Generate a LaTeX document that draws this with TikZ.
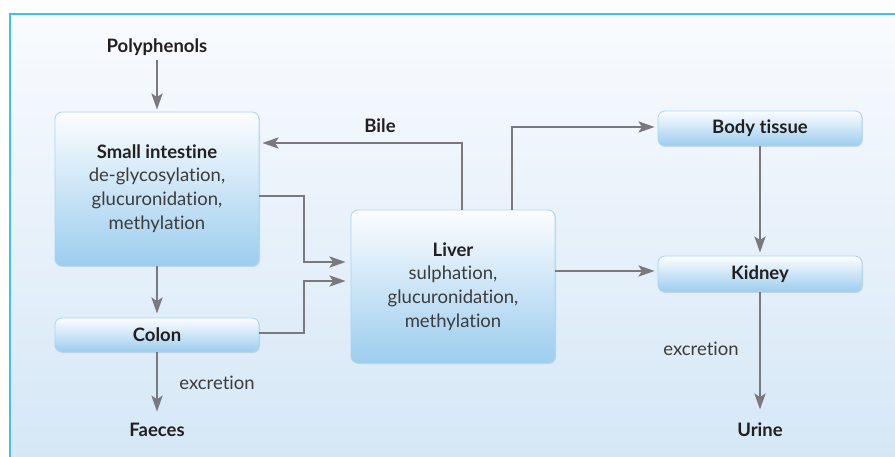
\documentclass[tikz,border=0pt]{standalone}
\usepackage{fontspec}
\setmainfont{Lato}[Ligatures=NoCommon]
\usetikzlibrary{arrows.meta,shadows}
\definecolor{txt}{HTML}{231F20}
\definecolor{subtxt}{HTML}{3C3C3C}
\definecolor{arrgrey}{HTML}{7A7A7E}
\definecolor{boxtop}{HTML}{FCFDFF}
\definecolor{boxbot}{HTML}{9CCDEE}
\definecolor{boxline}{HTML}{A9D5F2}
\definecolor{bgtop}{HTML}{F9FBFE}
\definecolor{bgbot}{HTML}{D5E7F6}
\definecolor{frame}{HTML}{3FC0EE}
\tikzset{
  box/.style={rounded corners=7pt, draw=boxline, line width=0.8pt,
    top color=boxtop, bottom color=boxbot, minimum width=204pt,
    align=center, text=txt, font=\fontsize{18.5}{24}\selectfont,
    drop shadow={shadow xshift=1pt, shadow yshift=-1pt, opacity=0.18, fill=black!60}},
  lbl/.style={text=txt, font=\fontsize{18.5}{22}\selectfont\bfseries},
  note/.style={text=subtxt, font=\fontsize{18.5}{22}\selectfont},
  arr/.style={draw=arrgrey, line width=2.8pt,
    -{Stealth[length=16pt,width=11pt,inset=3.5pt]}}
}
\begin{document}
\begin{tikzpicture}[x=1pt,y=-1pt]
\useasboundingbox (0,0) rectangle (895,457);
\shade[top color=bgtop, bottom color=bgbot] (10,14) rectangle (897,460);
\draw[frame, line width=1.5pt] (10,460) -- (10,14) -- (897,14);

\node[lbl] (poly) at (157,47) {Polyphenols};
\node[box, minimum height=154pt] (si) at (157,189)
  {\textbf{Small intestine}\\[-1pt]{\color{subtxt}de-glycosylation,}\\{\color{subtxt}glucuronidation,}\\{\color{subtxt}methylation}};
\node[box, minimum height=34pt] (colon) at (157,335) {\textbf{Colon}};
\node[lbl] (faeces) at (157,430) {Faeces};
\node[note] (exc1) at (217,383) {excretion};

\node[box, minimum height=153pt] (liver) at (453,286.5)
  {\textbf{Liver}\\[-1pt]{\color{subtxt}sulphation,}\\{\color{subtxt}glucuronidation,}\\{\color{subtxt}methylation}};
\node[box, minimum height=35pt] (body) at (760,128.5) {\textbf{Body tissue}};
\node[box, minimum height=36pt] (kidney) at (760,274) {\textbf{Kidney}};
\node[lbl] (urine) at (760,430) {Urine};
\node[note] (exc2) at (701,349) {excretion};
\node[lbl] (bile) at (380,126) {Bile};

\draw[arr, shorten <=1pt, shorten >=2pt] (poly.south) -- (si.north);
\draw[arr, shorten >=4pt] (si.south) -- (colon.north);
\draw[arr, shorten >=8pt] (colon.south) -- (faeces.north);
\draw[arr] ([yshift=-7pt]si.east) -- (304,196) |- ([yshift=24.5pt,xshift=-5pt]liver.west);
\draw[arr] ([yshift=2pt]colon.east) -- (304,333) |- ([yshift=5.5pt,xshift=-5pt]liver.west);
\draw[arr] ([xshift=9pt]liver.north) |- ([yshift=46pt,xshift=3pt]si.east);
\draw[arr] ([xshift=59pt]liver.north) |- ([yshift=1.5pt,xshift=-3pt]body.west);
\draw[arr, shorten >=3pt] (body.south) -- (kidney.north);
\draw[arr] (liver.east |- 0,271) -- ([yshift=3pt,xshift=-3pt]kidney.west);
\draw[arr, shorten >=10pt] (kidney.south) -- (urine.north);
\end{tikzpicture}
\end{document}
